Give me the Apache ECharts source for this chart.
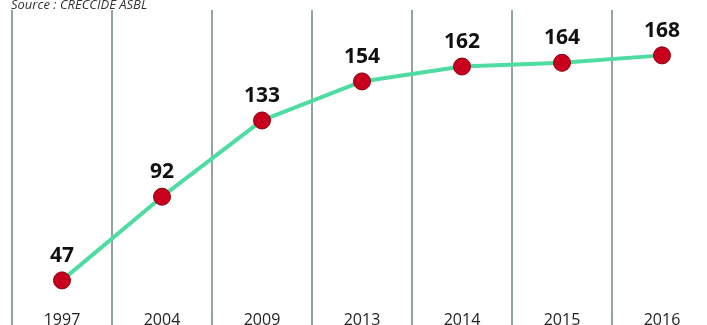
<!DOCTYPE html>
<html><head><meta charset="utf-8">
<script src="https://cdn.jsdelivr.net/npm/echarts@6/dist/echarts.min.js"></script>
<style>html,body{margin:0;padding:0;background:#fff}#c{width:707px;height:325px}</style>
</head><body><div id="c"></div>
<script>
var years = ['1997','2004','2009','2013','2014','2015','2016'];
var values = [47, 92, 133, 154, 162, 164, 168];
var sourceText = 'Source : CRECCIDE ASBL';

var chart = echarts.init(document.getElementById('c'));
chart.setOption({
  animation: false,
  backgroundColor: '#ffffff',
  title: {
    text: sourceText, left: 6, top: -6,
    textStyle: {fontFamily: 'Open Sans', fontStyle: 'italic', fontWeight: 'normal', fontSize: 13, color: '#333'}
  },
  grid: {left: 12, top: 10, width: 700, height: 302, containLabel: false, outerBoundsMode: 'none'},
  xAxis: {
    type: 'category', data: years, boundaryGap: true,
    axisLine: {show: false},
    axisTick: {show: true, length: 15, lineStyle: {color: '#6f8585', width: 1.5}},
    splitLine: {show: true, lineStyle: {color: '#6f8585', width: 1.5}},
    axisLabel: {fontFamily: 'Open Sans', fontSize: 16, color: '#222', margin: 0}
  },
  yAxis: {
    type: 'value', min: 30, max: 192.4, show: false, splitLine: {show: false}
  },
  series: [{
    type: 'line', data: values, symbol: 'circle', symbolSize: 17,
    lineStyle: {color: '#4fdca2', width: 4},
    itemStyle: {color: '#c8001e', borderColor: '#8a0010', borderWidth: 1},
    label: {show: true, position: 'top', distance: 5, fontFamily: 'Open Sans', fontWeight: 'bold', fontSize: 21, color: '#111'}
  }]
});
</script></body></html>
